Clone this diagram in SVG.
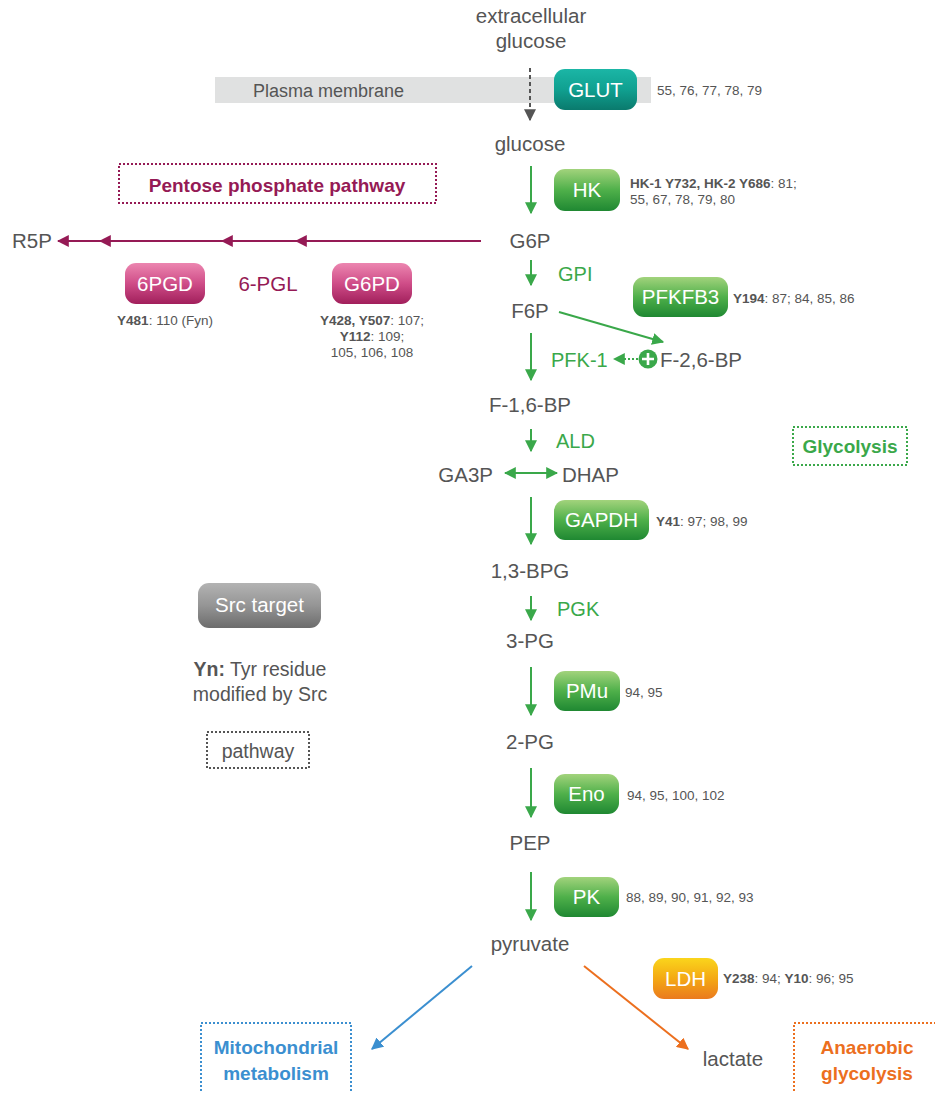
<svg xmlns="http://www.w3.org/2000/svg" width="935" height="1093" viewBox="0 0 935 1093">
<defs>
<linearGradient id="gGreen" x1="0" y1="0" x2="0" y2="1"><stop offset="0" stop-color="#a2d37c"/><stop offset="0.5" stop-color="#4fb04a"/><stop offset="1" stop-color="#1f8832"/></linearGradient>
<linearGradient id="gPink" x1="0" y1="0" x2="0" y2="1"><stop offset="0" stop-color="#ec86b0"/><stop offset="0.5" stop-color="#cf4d88"/><stop offset="1" stop-color="#a11f5b"/></linearGradient>
<linearGradient id="gTeal" x1="0" y1="0" x2="0" y2="1"><stop offset="0" stop-color="#1bb6a6"/><stop offset="0.5" stop-color="#10a090"/><stop offset="1" stop-color="#0a7a6d"/></linearGradient>
<linearGradient id="gGray" x1="0" y1="0" x2="0" y2="1"><stop offset="0" stop-color="#b3b3b3"/><stop offset="0.5" stop-color="#959595"/><stop offset="1" stop-color="#6c6c6c"/></linearGradient>
<linearGradient id="gOrange" x1="0" y1="0" x2="0" y2="1"><stop offset="0" stop-color="#fad51c"/><stop offset="0.5" stop-color="#f4a914"/><stop offset="1" stop-color="#ea7a1e"/></linearGradient>
<marker id="aGreen" viewBox="0 0 10 10" refX="9" refY="5" markerWidth="6" markerHeight="6" markerUnits="strokeWidth" orient="auto"><path d="M0,0 L10,5 L0,10 z" fill="#3aa84a"/></marker>
<marker id="aGreenS" viewBox="0 0 10 10" refX="9" refY="5" markerWidth="6" markerHeight="6" markerUnits="strokeWidth" orient="auto-start-reverse"><path d="M0,0 L10,5 L0,10 z" fill="#3aa84a"/></marker>
<marker id="aPPP" viewBox="0 0 10 10" refX="9" refY="5" markerWidth="6" markerHeight="6" markerUnits="strokeWidth" orient="auto"><path d="M0,0 L10,5 L0,10 z" fill="#951a55"/></marker>
<marker id="aGray" viewBox="0 0 10 10" refX="9" refY="5" markerWidth="6" markerHeight="6" markerUnits="strokeWidth" orient="auto"><path d="M0,0 L10,5 L0,10 z" fill="#555"/></marker>
<marker id="aBlue" viewBox="0 0 10 10" refX="9" refY="5" markerWidth="6" markerHeight="6" markerUnits="strokeWidth" orient="auto"><path d="M0,0 L10,5 L0,10 z" fill="#3b8fd0"/></marker>
<marker id="aOrange" viewBox="0 0 10 10" refX="9" refY="5" markerWidth="6" markerHeight="6" markerUnits="strokeWidth" orient="auto"><path d="M0,0 L10,5 L0,10 z" fill="#ec6f1e"/></marker>
</defs>
<style>
text{font-family:"Liberation Sans",Arial,sans-serif;}
.m{font-size:20.5px;fill:#555;}
.ref{font-size:13.5px;fill:#555;}
.b{font-weight:bold;}
.enz{font-size:20.5px;fill:#fff;text-anchor:middle;}
.gt{font-size:20px;fill:#3aa84a;}
.gl{stroke:#3aa84a;stroke-width:2;fill:none;}
.lg{font-size:19.5px;fill:#555;text-anchor:middle;}
.dot{fill:none;stroke-width:2;stroke-dasharray:2 2;}
.pw{font-size:19px;font-weight:bold;text-anchor:middle;}
</style>

<rect x="215" y="77" width="436" height="26" fill="#e0e1e1"/>
<text x="253" y="97" style="font-size:18px;fill:#555">Plasma membrane</text>

<g id="connectors">
<line x1="530" y1="68" x2="530" y2="120" stroke="#555" stroke-width="2" stroke-dasharray="4 3" marker-end="url(#aGray)"/>
<line class="gl" x1="531" y1="166" x2="531" y2="213" marker-end="url(#aGreen)"/>
<line x1="481" y1="241" x2="296" y2="241" stroke="#951a55" stroke-width="2" marker-end="url(#aPPP)"/>
<line x1="296" y1="241" x2="222" y2="241" stroke="#951a55" stroke-width="2" marker-end="url(#aPPP)"/>
<line x1="222" y1="241" x2="100" y2="241" stroke="#951a55" stroke-width="2" marker-end="url(#aPPP)"/>
<line x1="100" y1="241" x2="58" y2="241" stroke="#951a55" stroke-width="2" marker-end="url(#aPPP)"/>
<line class="gl" x1="531" y1="260" x2="531" y2="285" marker-end="url(#aGreen)"/>
<line class="gl" x1="559" y1="312" x2="663" y2="342" marker-end="url(#aGreen)"/>
<line class="gl" x1="531" y1="333" x2="531" y2="380" marker-end="url(#aGreen)"/>
<line class="gl" x1="638" y1="359" x2="614" y2="359" stroke-dasharray="2 2" marker-end="url(#aGreen)"/>
<line class="gl" x1="531" y1="429" x2="531" y2="451" marker-end="url(#aGreen)"/>
<line class="gl" x1="505" y1="473" x2="557" y2="473" marker-start="url(#aGreenS)" marker-end="url(#aGreen)"/>
<line class="gl" x1="531" y1="497" x2="531" y2="544" marker-end="url(#aGreen)"/>
<line class="gl" x1="531" y1="596" x2="531" y2="620" marker-end="url(#aGreen)"/>
<line class="gl" x1="531" y1="667" x2="531" y2="715" marker-end="url(#aGreen)"/>
<line class="gl" x1="531" y1="768" x2="531" y2="817" marker-end="url(#aGreen)"/>
<line class="gl" x1="531" y1="872" x2="531" y2="920" marker-end="url(#aGreen)"/>
<line x1="472" y1="966" x2="372" y2="1049" stroke="#3b8fd0" stroke-width="2" marker-end="url(#aBlue)"/>
<line x1="584" y1="966" x2="688" y2="1049" stroke="#ec6f1e" stroke-width="2" marker-end="url(#aOrange)"/>
<circle cx="648" cy="359" r="9.5" fill="#3aa84a"/>
<path d="M642,359 H654 M648,353 V365" stroke="#fff" stroke-width="2.6"/>
</g>

<g id="metabolites">
<text class="m" x="531" y="23" text-anchor="middle">extracellular</text>
<text class="m" x="531" y="48" text-anchor="middle">glucose</text>
<text class="m" x="530" y="151" text-anchor="middle">glucose</text>
<text class="m" x="530" y="248" text-anchor="middle">G6P</text>
<text class="m" x="12" y="248">R5P</text>
<text class="m" x="268" y="291" text-anchor="middle" style="fill:#951a55">6-PGL</text>
<text class="m" x="530" y="318" text-anchor="middle">F6P</text>
<text class="m" x="660" y="367">F-2,6-BP</text>
<text class="gt" x="551" y="367">PFK-1</text>
<text class="m" x="530" y="412" text-anchor="middle">F-1,6-BP</text>
<text class="gt" x="556" y="448">ALD</text>
<text class="gt" x="558" y="281">GPI</text>
<text class="m" x="493" y="482" text-anchor="end">GA3P</text>
<text class="m" x="562" y="482">DHAP</text>
<text class="m" x="530" y="578" text-anchor="middle">1,3-BPG</text>
<text class="gt" x="557" y="616">PGK</text>
<text class="m" x="530" y="648" text-anchor="middle">3-PG</text>
<text class="m" x="530" y="749" text-anchor="middle">2-PG</text>
<text class="m" x="530" y="850" text-anchor="middle">PEP</text>
<text class="m" x="530" y="951" text-anchor="middle">pyruvate</text>
<text class="m" x="733" y="1066" text-anchor="middle">lactate</text>
</g>

<g id="GLUT"><rect x="554" y="69" width="83" height="41" rx="11" fill="url(#gTeal)"/><text class="enz" x="595.5" y="97">GLUT</text>
<text class="ref" x="657" y="95">55, 76, 77, 78, 79</text></g>

<g id="HK"><rect x="554" y="169" width="66" height="42" rx="11" fill="url(#gGreen)"/><text class="enz" x="587" y="197">HK</text>
<text class="ref" x="630" y="188"><tspan class="b">HK-1 Y732, HK-2 Y686</tspan>: 81;</text>
<text class="ref" x="630" y="204">55, 67, 78, 79, 80</text></g>

<g id="PPP"><rect class="dot" x="119" y="164" width="317" height="39" stroke="#951a55"/>
<text x="277" y="192" class="pw" style="fill:#951a55">Pentose phosphate pathway</text></g>

<g id="6PGD"><rect x="125" y="263" width="80" height="41" rx="11" fill="url(#gPink)"/><text class="enz" x="165" y="291">6PGD</text>
<text class="ref" x="165" y="325" text-anchor="middle"><tspan class="b">Y481</tspan>: 110 (Fyn)</text></g>

<g id="G6PD"><rect x="332" y="263" width="80" height="41" rx="11" fill="url(#gPink)"/><text class="enz" x="372" y="291">G6PD</text>
<text class="ref" x="372" y="325" text-anchor="middle"><tspan class="b">Y428, Y507</tspan>: 107;</text>
<text class="ref" x="372" y="341" text-anchor="middle"><tspan class="b">Y112</tspan>: 109;</text>
<text class="ref" x="372" y="357" text-anchor="middle">105, 106, 108</text></g>

<g id="PFKFB3"><rect x="633" y="277" width="95" height="40" rx="11" fill="url(#gGreen)"/><text class="enz" x="680.5" y="304">PFKFB3</text>
<text class="ref" x="733" y="303"><tspan class="b">Y194</tspan>: 87; 84, 85, 86</text></g>

<g id="Glycolysis"><rect class="dot" x="793" y="427" width="114" height="38" stroke="#3aa84a"/>
<text x="850" y="453" class="pw" style="fill:#3aa84a">Glycolysis</text></g>

<g id="GAPDH"><rect x="554" y="500" width="95" height="40" rx="11" fill="url(#gGreen)"/><text class="enz" x="601.5" y="527">GAPDH</text>
<text class="ref" x="656" y="526"><tspan class="b">Y41</tspan>: 97; 98, 99</text></g>

<g id="PMu"><rect x="554" y="671" width="66" height="40" rx="11" fill="url(#gGreen)"/><text class="enz" x="587" y="698">PMu</text>
<text class="ref" x="625" y="697">94, 95</text></g>

<g id="Eno"><rect x="554" y="774" width="65" height="40" rx="11" fill="url(#gGreen)"/><text class="enz" x="586.5" y="801">Eno</text>
<text class="ref" x="627" y="800">94, 95, 100, 102</text></g>

<g id="PK"><rect x="554" y="877" width="65" height="40" rx="11" fill="url(#gGreen)"/><text class="enz" x="586.5" y="904">PK</text>
<text class="ref" x="626" y="902">88, 89, 90, 91, 92, 93</text></g>

<g id="LDH"><rect x="653" y="958" width="65" height="41" rx="11" fill="url(#gOrange)"/><text class="enz" x="685.5" y="986">LDH</text>
<text class="ref" x="723" y="983"><tspan class="b">Y238</tspan>: 94; <tspan class="b">Y10</tspan>: 96; 95</text></g>

<g id="Mito"><rect class="dot" x="201" y="1023" width="150" height="90" stroke="#3b8fd0"/>
<text x="276" y="1054" class="pw" style="fill:#3b8fd0">Mitochondrial</text>
<text x="276" y="1080" class="pw" style="fill:#3b8fd0">metabolism</text></g>

<g id="Anaerobic"><rect class="dot" x="794" y="1023" width="160" height="90" stroke="#ec6f1e"/>
<text x="867" y="1054" class="pw" style="fill:#ec6f1e">Anaerobic</text>
<text x="867" y="1080" class="pw" style="fill:#ec6f1e">glycolysis</text></g>

<g id="legend">
<rect x="198" y="583" width="123" height="45" rx="11" fill="url(#gGray)"/><text class="enz" x="259.5" y="612">Src target</text>
<text class="lg" x="260" y="676"><tspan class="b">Yn:</tspan> Tyr residue</text>
<text class="lg" x="260" y="701">modified by Src</text>
<rect class="dot" x="207" y="732" width="102" height="36" stroke="#555"/>
<text class="lg" x="258" y="758">pathway</text>
</g>
</svg>
